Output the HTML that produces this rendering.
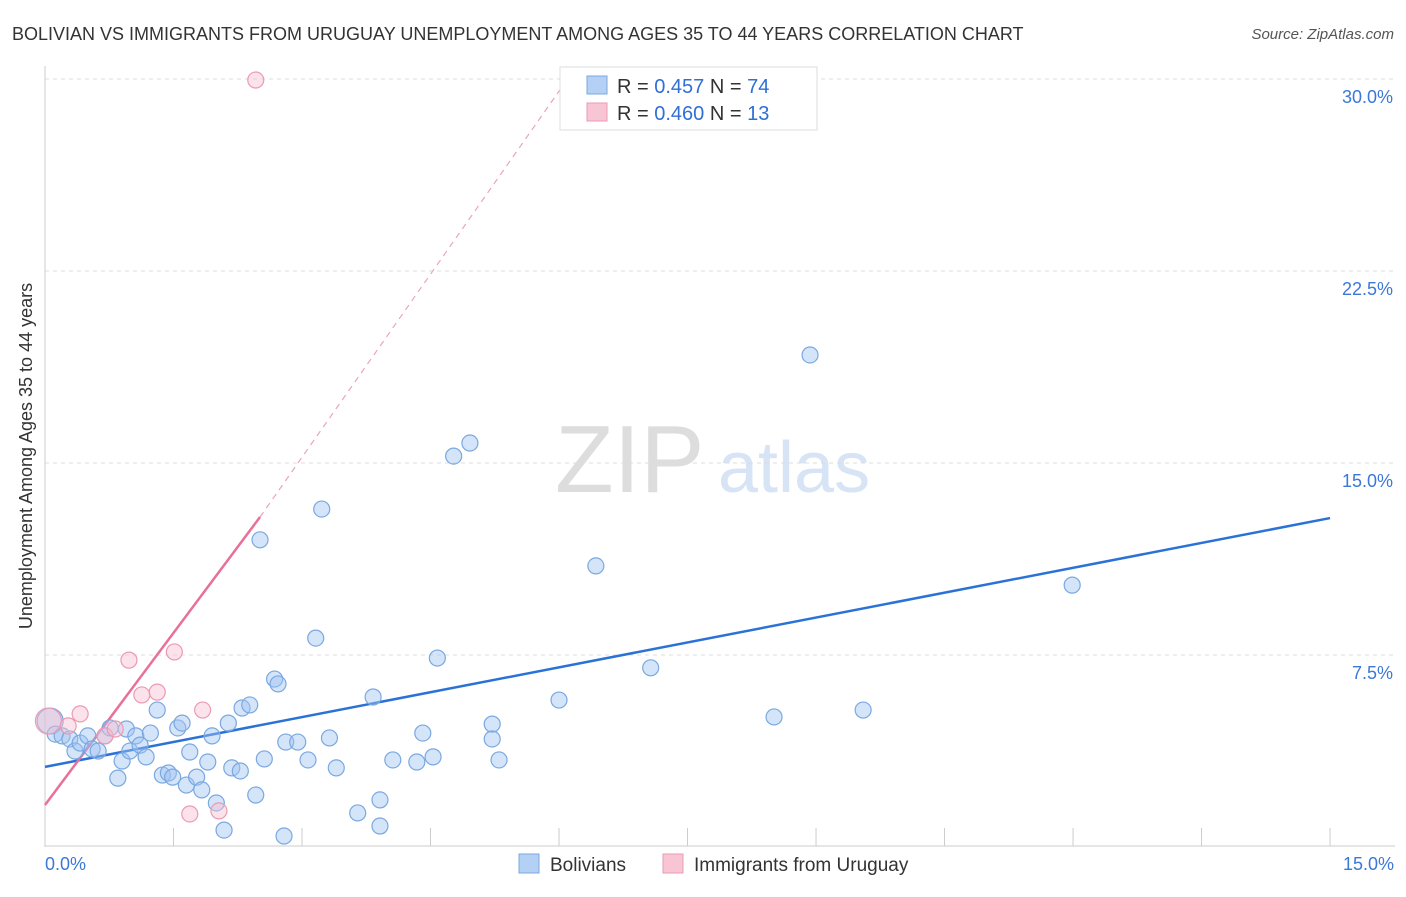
<!DOCTYPE html>
<html><head><meta charset="utf-8"><style>
body{margin:0;background:#fff;font-family:"Liberation Sans",sans-serif}
svg text{font-family:"Liberation Sans",sans-serif}
</style></head><body>
<svg width="1406" height="892" id="chart">
<text x="12" y="40" font-size="18" fill="#333">BOLIVIAN VS IMMIGRANTS FROM URUGUAY UNEMPLOYMENT AMONG AGES 35 TO 44 YEARS CORRELATION CHART</text>
<text x="1394" y="39" font-size="15" fill="#555" text-anchor="end" font-style="italic">Source: ZipAtlas.com</text>
<text x="32" y="456" font-size="18" fill="#333" text-anchor="middle" transform="rotate(-90 32 456)">Unemployment Among Ages 35 to 44 years</text>
<text x="555" y="492" font-size="96" fill="#ddd" font-family="Liberation Serif">ZIP</text>
<text x="718" y="492" font-size="72" fill="#d6e4f5">atlas</text>
<g id="grid"></g><g id="axes"></g><g id="lines"></g><g id="pts"></g>
<g>
<rect x="560" y="67" width="257" height="63" fill="#fff" stroke="#ddd"/>
<rect x="587" y="76" width="20" height="18" fill="#b5d0f5" stroke="#7aa8e0"/>
<text x="617" y="93" font-size="20" fill="#333">R = <tspan fill="#2f6fd6">0.457</tspan>   N = <tspan fill="#2f6fd6">74</tspan></text>
<rect x="587" y="103" width="20" height="18" fill="#f8c5d4" stroke="#eb9ab2"/>
<text x="617" y="120" font-size="20" fill="#333">R = <tspan fill="#2f6fd6">0.460</tspan>   N = <tspan fill="#2f6fd6">13</tspan></text>
</g>
<g>
<rect x="519" y="854" width="20" height="19" fill="#b5d0f5" stroke="#7aa8e0"/>
<text x="550" y="871" font-size="19" fill="#333">Bolivians</text>
<rect x="663" y="854" width="20" height="19" fill="#f8c5d4" stroke="#eb9ab2"/>
<text x="694" y="871" font-size="19" fill="#333">Immigrants from Uruguay</text>
</g>
</svg>
<script>
const yTicks=[7.5,15,22.5,30];
const yTickLabels=["7.5%","15.0%","22.5%","30.0%"];
const xTickCount=10;
const blueX=[0.06,0.12,0.2,0.29,0.35,0.41,0.5,0.55,0.62,0.7,0.76,0.85,0.9,0.95,0.99,1.06,1.11,1.18,1.23,1.31,1.37,1.44,1.49,1.55,1.6,1.65,1.69,1.77,1.83,1.9,1.95,2.0,2.09,2.14,2.18,2.28,2.3,2.39,2.46,2.51,2.56,2.68,2.72,2.79,2.81,2.95,3.07,3.16,3.23,3.32,3.4,3.65,3.83,3.91,3.91,4.06,4.34,4.41,4.53,4.58,4.77,4.96,5.22,5.22,5.3,6.0,6.43,7.07,8.51,8.93,9.55,11.99];
const blueY=[4.92,4.41,4.34,4.22,3.75,4.06,4.34,3.83,3.75,4.34,4.65,2.69,3.36,4.61,3.75,4.34,3.98,3.52,4.45,5.35,2.81,2.89,2.73,4.65,4.84,2.42,3.71,2.73,2.23,3.32,4.34,1.72,0.66,4.84,3.09,2.97,5.43,5.55,2.03,12.0,3.44,6.56,6.37,0.43,4.1,4.1,3.4,8.16,13.2,4.26,3.09,1.33,5.86,1.84,0.82,3.4,3.32,4.45,3.52,7.38,15.27,15.78,4.8,4.22,3.4,5.74,10.98,7.0,5.08,19.22,5.35,10.23];
const pinkX=[0.04,0.27,0.41,0.7,0.82,0.98,1.13,1.31,1.51,1.69,1.84,2.03,2.46];
const pinkY=[4.92,4.73,5.2,4.34,4.61,7.3,5.94,6.05,7.62,1.29,5.35,1.41,29.96];
const blueLine=[[0,3.13],[15,12.85]];
const pinkLine=[[0,1.64],[2.51,12.89]];
const pinkDash=[[2.51,12.89],[6.1,30]];
const X=v=>45+v*85.67, Y=v=>847-v*25.6;
const NS="http://www.w3.org/2000/svg";
function mk(t,a,p){const e=document.createElementNS(NS,t);for(const k in a)e.setAttribute(k,a[k]);p.appendChild(e);return e;}
const g=document.getElementById('grid'),ax=document.getElementById('axes'),ln=document.getElementById('lines'),pt=document.getElementById('pts');
yTicks.forEach((t,i)=>{
 const l=mk('line',{x1:45,x2:1395,y1:Y(t),y2:Y(t),stroke:'#ddd','stroke-dasharray':'4 4'},g);
 
 
 const tx=mk('text',{x:1393,y:Y(t)+24,'font-size':18,fill:'#3b78d8','text-anchor':'end'},ax);
 tx.textContent=yTickLabels[i];
 
 
});
const yl=mk('line',{x1:45,x2:45,y1:66,y2:847,stroke:'#ccc'},ax);


const xl=mk('line',{x1:45,x2:1395,y1:846,y2:846,stroke:'#ccc'},ax);


for(let i=0;i<=xTickCount;i++){const v=15*i/xTickCount;
 const t=mk('line',{x1:X(v),x2:X(v),y1:828,y2:846,stroke:'#ccc'},ax);
 
 }
const x0=mk('text',{x:45,y:870,'font-size':18,fill:'#3b78d8'},ax);x0.textContent='0.0%';


const x1=mk('text',{x:1394,y:870,'font-size':18,fill:'#3b78d8','text-anchor':'end'},ax);x1.textContent='15.0%';


function line(p,c,w,d,n){const e=mk('line',{x1:X(p[0][0]),y1:Y(p[0][1]),x2:X(p[1][0]),y2:Y(p[1][1]),stroke:c,'stroke-width':w},ln);if(d)e.setAttribute('stroke-dasharray',d);
 
 }
blueX.forEach((x,i)=>{const r=i==0?13:8;
 const c=mk('circle',{cx:X(x),cy:Y(blueY[i]),r:r,fill:'rgba(160,196,242,0.45)',stroke:'#7aa8e0','stroke-width':1.2},pt);
 
 });
pinkX.forEach((x,i)=>{const r=i==0?13:8;
 const c=mk('circle',{cx:X(x),cy:Y(pinkY[i]),r:r,fill:'rgba(248,190,208,0.45)',stroke:'#eb9ab2','stroke-width':1.2},pt);
 
 });
line(blueLine,'#2a72d6',2.5,null,'bolivian-trendline');
line(pinkLine,'#e8709a',2.5,null,'uruguay-trendline');
line(pinkDash,'#eaa5bb',1.2,'6 5','uruguay-trendline-extension');
</script>
</body></html>
